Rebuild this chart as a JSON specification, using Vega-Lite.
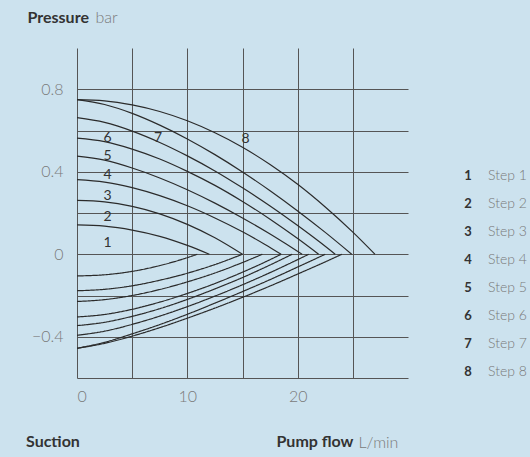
{
  "$schema": "https://vega.github.io/schema/vega-lite/v6.json",
  "width": 331,
  "height": 330,
  "autosize": "none",
  "padding": {"left": 77, "top": 48, "right": 122, "bottom": 79},
  "background": "#cce2ee",
  "config": {"view": {"stroke": null}, "font": "Lato"},
  "title": {"text": "Suction", "orient": "bottom", "anchor": "start", "frame": "group", "font": "Lato", "fontSize": 16, "fontWeight": "bold", "color": "#333333", "dx": -51, "offset": 0, "dy": -16},
  "datasets": {
    "pressure": [
      {"s":"1","f":0,"p":0.142},{"s":"1","f":2.5,"p":0.136},{"s":"1","f":5,"p":0.117},{"s":"1","f":7.5,"p":0.087},{"s":"1","f":10,"p":0.043},{"s":"1","f":12,"p":0},
      {"s":"2","f":0,"p":0.261},{"s":"2","f":2.5,"p":0.254},{"s":"2","f":5,"p":0.232},{"s":"2","f":7.5,"p":0.196},{"s":"2","f":10,"p":0.145},{"s":"2","f":12.5,"p":0.08},{"s":"2","f":15,"p":0},
      {"s":"3","f":0,"p":0.362},{"s":"3","f":2.5,"p":0.35},{"s":"3","f":5,"p":0.323},{"s":"3","f":7.5,"p":0.284},{"s":"3","f":10,"p":0.235},{"s":"3","f":12.5,"p":0.176},{"s":"3","f":15,"p":0.109},{"s":"3","f":17,"p":0.049},{"s":"3","f":18.5,"p":0},
      {"s":"4","f":0,"p":0.476},{"s":"4","f":2.5,"p":0.456},{"s":"4","f":5,"p":0.418},{"s":"4","f":7.5,"p":0.37},{"s":"4","f":10,"p":0.313},{"s":"4","f":12.5,"p":0.248},{"s":"4","f":15,"p":0.176},{"s":"4","f":17.5,"p":0.098},{"s":"4","f":19,"p":0.048},{"s":"4","f":20.4,"p":0},
      {"s":"5","f":0,"p":0.563},{"s":"5","f":2.5,"p":0.546},{"s":"5","f":5,"p":0.51},{"s":"5","f":7.5,"p":0.462},{"s":"5","f":10,"p":0.402},{"s":"5","f":12.5,"p":0.334},{"s":"5","f":15,"p":0.256},{"s":"5","f":17.5,"p":0.17},{"s":"5","f":20,"p":0.076},{"s":"5","f":21.9,"p":0},
      {"s":"6","f":0,"p":0.662},{"s":"6","f":2.5,"p":0.639},{"s":"6","f":5,"p":0.597},{"s":"6","f":7.5,"p":0.542},{"s":"6","f":10,"p":0.477},{"s":"6","f":12.5,"p":0.404},{"s":"6","f":15,"p":0.322},{"s":"6","f":17.5,"p":0.234},{"s":"6","f":20,"p":0.139},{"s":"6","f":22,"p":0.059},{"s":"6","f":23.4,"p":0},
      {"s":"7","f":0,"p":0.75},{"s":"7","f":2.5,"p":0.726},{"s":"7","f":5,"p":0.683},{"s":"7","f":7.5,"p":0.626},{"s":"7","f":10,"p":0.559},{"s":"7","f":12.5,"p":0.483},{"s":"7","f":15,"p":0.399},{"s":"7","f":17.5,"p":0.308},{"s":"7","f":20,"p":0.21},{"s":"7","f":22.5,"p":0.106},{"s":"7","f":24.9,"p":0},
      {"s":"8","f":0,"p":0.75},{"s":"8","f":2.5,"p":0.744},{"s":"8","f":5,"p":0.724},{"s":"8","f":7.5,"p":0.692},{"s":"8","f":10,"p":0.647},{"s":"8","f":12.5,"p":0.589},{"s":"8","f":15,"p":0.519},{"s":"8","f":17.5,"p":0.435},{"s":"8","f":20,"p":0.339},{"s":"8","f":22.5,"p":0.229},{"s":"8","f":25,"p":0.107},{"s":"8","f":27,"p":0}
    ],
    "suction": [
      {"s":"1","f":0,"p":-0.105},{"s":"1","f":2.5,"p":-0.0995},{"s":"1","f":5,"p":-0.083},{"s":"1","f":7.5,"p":-0.055},{"s":"1","f":9.5,"p":-0.025},{"s":"1","f":10.9,"p":0},
      {"s":"2","f":0,"p":-0.177},{"s":"2","f":2.5,"p":-0.17},{"s":"2","f":5,"p":-0.153},{"s":"2","f":7.5,"p":-0.126},{"s":"2","f":10,"p":-0.092},{"s":"2","f":12.5,"p":-0.05},{"s":"2","f":15,"p":0},
      {"s":"3","f":0,"p":-0.229},{"s":"3","f":2.5,"p":-0.22},{"s":"3","f":5,"p":-0.2},{"s":"3","f":7.5,"p":-0.171},{"s":"3","f":10,"p":-0.134},{"s":"3","f":12.5,"p":-0.091},{"s":"3","f":15,"p":-0.04},{"s":"3","f":16.8,"p":0},
      {"s":"4","f":0,"p":-0.304},{"s":"4","f":2.5,"p":-0.292},{"s":"4","f":5,"p":-0.267},{"s":"4","f":7.5,"p":-0.232},{"s":"4","f":10,"p":-0.19},{"s":"4","f":12.5,"p":-0.142},{"s":"4","f":15,"p":-0.087},{"s":"4","f":17,"p":-0.039},{"s":"4","f":18.5,"p":0},
      {"s":"5","f":0,"p":-0.346},{"s":"5","f":2.5,"p":-0.33},{"s":"5","f":5,"p":-0.301},{"s":"5","f":7.5,"p":-0.264},{"s":"5","f":10,"p":-0.219},{"s":"5","f":12.5,"p":-0.168},{"s":"5","f":15,"p":-0.113},{"s":"5","f":17.5,"p":-0.052},{"s":"5","f":19.5,"p":0},
      {"s":"6","f":0,"p":-0.393},{"s":"6","f":2.5,"p":-0.373},{"s":"6","f":5,"p":-0.34},{"s":"6","f":7.5,"p":-0.3},{"s":"6","f":10,"p":-0.254},{"s":"6","f":12.5,"p":-0.203},{"s":"6","f":15,"p":-0.148},{"s":"6","f":17.5,"p":-0.089},{"s":"6","f":20,"p":-0.026},{"s":"6","f":21,"p":0},
      {"s":"7","f":0,"p":-0.456},{"s":"7","f":2.5,"p":-0.427},{"s":"7","f":5,"p":-0.386},{"s":"7","f":7.5,"p":-0.341},{"s":"7","f":10,"p":-0.291},{"s":"7","f":12.5,"p":-0.237},{"s":"7","f":15,"p":-0.181},{"s":"7","f":17.5,"p":-0.123},{"s":"7","f":20,"p":-0.062},{"s":"7","f":22.5,"p":0},
      {"s":"8","f":0,"p":-0.456},{"s":"8","f":2.5,"p":-0.432},{"s":"8","f":5,"p":-0.397},{"s":"8","f":7.5,"p":-0.356},{"s":"8","f":10,"p":-0.31},{"s":"8","f":12.5,"p":-0.261},{"s":"8","f":15,"p":-0.209},{"s":"8","f":17.5,"p":-0.154},{"s":"8","f":20,"p":-0.096},{"s":"8","f":22.5,"p":-0.037},{"s":"8","f":24,"p":0}
    ],
    "labels": [
      {"t":"1","f":2.78,"p":0.056},{"t":"2","f":2.78,"p":0.182},{"t":"3","f":2.78,"p":0.282},{"t":"4","f":2.78,"p":0.386},
      {"t":"5","f":2.78,"p":0.476},{"t":"6","f":2.78,"p":0.563},{"t":"7","f":7.34,"p":0.563},{"t":"8","f":15.28,"p":0.56}
    ]
  },
  "layer": [
    {
      "data": {"name": "pressure"},
      "mark": {"type": "line", "interpolate": "monotone", "strokeWidth": 1.2},
      "encoding": {
        "x": {"field": "f", "type": "quantitative", "scale": {"domain": [0, 30], "nice": false},
          "axis": {"orient": "bottom", "values": [0, 5, 10, 15, 20, 25], "labelExpr": "datum.value % 10 == 0 ? datum.label : ''",
            "grid": true, "gridColor": "#555555", "gridWidth": 1, "gridOpacity": 1, "domain": false, "ticks": false, "tickSize": 0,
            "labelPadding": 10, "labelFont": "Lato", "labelFontSize": 16, "labelFontWeight": 300, "labelColor": "#7a7a7a",
            "title": "Pump flow", "titleFont": "Lato", "titleFontSize": 16, "titleFontWeight": "bold", "titleColor": "#333333",
            "titleX": 199, "titleY": 63, "titleAlign": "left", "titleBaseline": "middle", "titleAngle": 0}},
        "y": {"field": "p", "type": "quantitative", "scale": {"domain": [-0.6, 1.0], "nice": false, "zero": false},
          "axis": {"orient": "left", "values": [-0.6, -0.4, -0.2, 0, 0.2, 0.4, 0.6, 0.8],
            "labelExpr": "indexof([0.8, 0.4, 0, -0.4], datum.value) >= 0 ? (datum.value == 0 ? '0' : format(datum.value, '.1f')) : ''",
            "grid": true, "gridColor": "#555555", "gridWidth": 1, "gridOpacity": 1, "domain": false, "ticks": false, "tickSize": 0,
            "labelPadding": 14, "labelFont": "Lato", "labelFontSize": 16, "labelFontWeight": 300, "labelColor": "#7a7a7a",
            "title": "Pressure", "titleFont": "Lato", "titleFontSize": 16, "titleFontWeight": "bold", "titleColor": "#333333",
            "titleX": -50, "titleY": -31, "titleAlign": "left", "titleBaseline": "middle", "titleAngle": 0}},
        "color": {"field": "s", "type": "nominal",
          "scale": {"range": ["#2b2b2b", "#2b2b2b", "#2b2b2b", "#2b2b2b", "#2b2b2b", "#2b2b2b", "#2b2b2b", "#2b2b2b"]},
          "legend": {"orient": "none", "legendX": 378, "legendY": 121, "title": null, "padding": 0,
            "symbolOpacity": 0, "symbolSize": 0, "symbolStrokeWidth": 0, "labelOffset": 0, "rowPadding": 14,
            "labelFont": "Lato", "labelFontSize": 13, "labelFontWeight": "bold", "labelColor": "#333333", "labelAlign": "center"}}
      }
    },
    {
      "data": {"name": "suction"},
      "mark": {"type": "line", "interpolate": "monotone", "strokeWidth": 1.2, "color": "#2b2b2b"},
      "encoding": {
        "x": {"field": "f", "type": "quantitative", "scale": {"domain": [0, 30], "nice": false},
          "axis": {"orient": "top", "labels": false, "ticks": false, "domain": false, "grid": false,
            "title": "L/min", "titleFont": "Lato", "titleFontSize": 16, "titleFontWeight": 300, "titleColor": "#7a7a7a",
            "titleX": 281, "titleY": 394, "titleAlign": "left", "titleBaseline": "middle", "titleAngle": 0}},
        "y": {"field": "p", "type": "quantitative", "scale": {"domain": [-0.6, 1.0], "nice": false, "zero": false},
          "axis": {"orient": "right", "labels": false, "ticks": false, "domain": false, "grid": false,
            "title": "bar", "titleFont": "Lato", "titleFontSize": 16, "titleFontWeight": 300, "titleColor": "#7a7a7a",
            "titleX": -313, "titleY": -31, "titleAlign": "left", "titleBaseline": "middle", "titleAngle": 0}},
        "strokeDash": {"field": "s", "type": "nominal",
          "scale": {"range": [[1, 0], [1, 0], [1, 0], [1, 0], [1, 0], [1, 0], [1, 0], [1, 0]]},
          "legend": {"orient": "none", "legendX": 397, "legendY": 121, "title": null, "padding": 0,
            "symbolOpacity": 0, "symbolSize": 0, "symbolStrokeWidth": 0, "labelOffset": 0, "rowPadding": 14,
            "labelExpr": "'Step ' + datum.label",
            "labelFont": "Lato", "labelFontSize": 14, "labelFontWeight": 300, "labelColor": "#7a7a7a", "labelAlign": "left"}}
      }
    },
    {
      "data": {"name": "labels"},
      "mark": {"type": "text", "font": "Lato", "fontSize": 14, "color": "#333333", "align": "center", "baseline": "middle"},
      "encoding": {
        "x": {"field": "f", "type": "quantitative", "axis": null},
        "y": {"field": "p", "type": "quantitative", "axis": null},
        "text": {"field": "t", "type": "nominal"}
      }
    }
  ],
  "resolve": {"axis": {"x": "independent", "y": "independent"}}
}
